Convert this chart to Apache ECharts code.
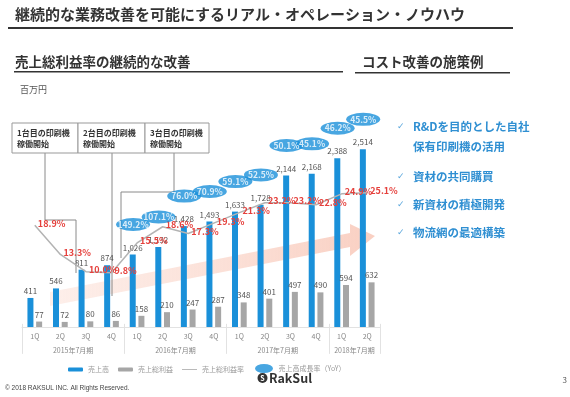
<!DOCTYPE html>
<html>
<head>
<meta charset="utf-8">
<script src="https://cdn.jsdelivr.net/npm/echarts@6/dist/echarts.min.js"></script>
<style>
html,body{margin:0;padding:0;background:#fff;}
#chart{width:570px;height:397px;}
</style>
</head>
<body>
<div id="chart"></div>
<script>
// 四半期・期
const quarters = ['1Q','2Q','3Q','4Q','1Q','2Q','3Q','4Q','1Q','2Q','3Q','4Q','1Q','2Q'];
const fiscalYears = ['2015年7月期','2016年7月期','2017年7月期','2018年7月期'];
const yearSpans = [4,4,4,2];
// 百万円
const sales = [411,546,811,874,1026,1132,1428,1493,1633,1728,2144,2168,2388,2514];
const grossProfit = [77,72,80,86,158,210,247,287,348,401,497,490,594,632];
// %
const grossMargin = [18.9,13.3,10.0,9.8,15.5,18.6,17.3,19.3,21.3,23.2,23.2,22.8,24.9,25.1];
const salesGrowth = [null,null,null,null,149.2,107.1,76.0,70.9,59.1,52.5,50.1,45.1,46.2,45.5];
// 注記・施策
const milestones = ['1台目の印刷機\n稼働開始','2台目の印刷機\n稼働開始','3台目の印刷機\n稼働開始'];
const measures = ['R&Dを目的とした自社','保有印刷機の活用','資材の共同購買','新資材の積極開発','物流網の最適構築'];

const FONT = '"Noto Sans CJK JP", "Noto Sans", sans-serif';
const BLUE = '#1a90d9';
const GREY = '#a6a6a6';
const ELLIPSE = 'path://M0,5A10,5 0 1,1 20,5A10,5 0 1,1 0,5Z';

// 期ラベル用の境界軸 (0..14)
const yearAxisData = new Array(quarters.length + 1).fill('');
const yearBounds = [0];
fiscalYears.forEach((y, i) => {
    const start = yearBounds[i];
    const end = start + yearSpans[i];
    yearBounds.push(end);
    yearAxisData[(start + end) / 2] = y;
});

const growthData = [];
salesGrowth.forEach((g, i) => {
    if (g != null) growthData.push([i, sales[i], g]);
});

const fmt = v => v.toLocaleString('en-US');

// 注記ボックス
const boxX = [12, 78, 145];
const graphics = [];
milestones.forEach((t, i) => {
    const w = (i < 2 ? boxX[i + 1] : 209) - boxX[i];
    graphics.push({
        type: 'rect', shape: {x: boxX[i], y: 123, width: w, height: 30},
        style: {fill: '#fff', stroke: '#999', lineWidth: 1}, z: 5
    });
    graphics.push({
        type: 'text', x: boxX[i] + 5, y: 127, z: 6,
        style: {text: t, font: 'bold 8px ' + FONT, fill: '#333', lineHeight: 11}
    });
});
[
    [[45,153],[45,220],[76,220],[76,273]],
    [[112,153],[112,296]],
    [[174,153],[174,192],[121,192],[121,258]]
].forEach(pts => graphics.push({
    type: 'polyline', shape: {points: pts}, z: 1,
    style: {stroke: '#8a8a8a', lineWidth: 1, fill: null}
}));

// 背景の矢印
graphics.push({
    type: 'polygon', z: -1,
    shape: {points: [[50,292],[350,233],[350,224],[375,236],[350,256],[350,247],[50,306]]},
    style: {fill: new echarts.graphic.LinearGradient(0, 0, 1, 0, [
        {offset: 0, color: 'rgba(252,228,220,0.6)'},
        {offset: 1, color: 'rgba(249,205,191,0.95)'}
    ])}
});

// タイトル類
graphics.push(
    {type: 'text', x: 15, y: 14, style: {text: '継続的な業務改善を可能にするリアル・オペレーション・ノウハウ', font: 'bold 15px ' + FONT, fill: '#333', textVerticalAlign: 'middle'}},
    {type: 'rect', shape: {x: 8, y: 27, width: 505, height: 2}, style: {fill: '#333'}},
    {type: 'text', x: 15, y: 62, style: {text: '売上総利益率の継続的な改善', font: 'bold 13.5px ' + FONT, fill: '#333', textVerticalAlign: 'middle'}},
    {type: 'rect', shape: {x: 14, y: 71, width: 329, height: 1.5}, style: {fill: '#333'}},
    {type: 'text', x: 362, y: 62, style: {text: 'コスト改善の施策例', font: 'bold 13.5px ' + FONT, fill: '#333', textVerticalAlign: 'middle'}},
    {type: 'rect', shape: {x: 355, y: 72, width: 155, height: 1.5}, style: {fill: '#333'}},
    {type: 'text', x: 20, y: 90, style: {text: '百万円', font: '9px ' + FONT, fill: '#555', textVerticalAlign: 'middle'}}
);

// 施策例
const measureY = [127, 147, 177, 205, 233];
measures.forEach((m, i) => {
    if (i !== 1) {
        graphics.push({type: 'text', x: 397, y: measureY[i], style: {text: '✓', font: '9px "DejaVu Sans"', fill: '#5aa6dc', textVerticalAlign: 'middle'}});
    }
    graphics.push({type: 'text', x: 413, y: measureY[i], style: {text: m, font: 'bold 11.5px ' + FONT, fill: '#2f8fd2', textVerticalAlign: 'middle'}});
});

// フッター
graphics.push(
    {type: 'text', x: 5, y: 388, style: {text: '© 2018 RAKSUL INC. All Rights Reserved.', font: '6.5px "Liberation Sans"', fill: '#444', textVerticalAlign: 'middle'}},
    {type: 'text', x: 567, y: 380, style: {text: '3', font: '8px ' + FONT, fill: '#555', textAlign: 'right', textVerticalAlign: 'middle'}},
    {type: 'circle', shape: {cx: 262.5, cy: 378, r: 5}, style: {fill: '#333'}},
    {type: 'text', x: 262.5, y: 378, style: {text: 'S', font: 'bold 7px ' + FONT, fill: '#fff', textAlign: 'center', textVerticalAlign: 'middle'}},
    {type: 'text', x: 269, y: 378, style: {text: 'RakSul', font: 'bold 12.5px ' + FONT, fill: '#333', textVerticalAlign: 'middle'}}
);

let chart = echarts.init(document.getElementById('chart'));
chart.setOption({
    animation: false,
    textStyle: {fontFamily: FONT},
    grid: {left: 22, right: 190, top: 115, bottom: 70},
    legend: [
        {
            left: 63, top: 361, itemWidth: 15, itemHeight: 4, itemGap: 9,
            textStyle: {fontSize: 7, color: '#999'},
            data: ['売上高', '売上総利益', {name: '売上総利益率', icon: 'path://M0,0h20v1.2h-20z'}]
        },
        {
            left: 250, top: 359, itemWidth: 19, itemHeight: 9,
            textStyle: {fontSize: 7, color: '#999'},
            data: [{name: '売上高成長率（YoY）', icon: ELLIPSE}]
        }
    ],
    xAxis: [
        {
            type: 'category', data: quarters,
            axisLine: {lineStyle: {color: '#e2e2e2'}},
            axisTick: {show: false},
            axisLabel: {color: '#888', fontSize: 7, margin: 6}
        },
        {
            type: 'category', data: yearAxisData, boundaryGap: false, position: 'bottom',
            axisLine: {show: false},
            axisTick: {show: true, length: 30, interval: i => yearBounds.includes(i), lineStyle: {color: '#e2e2e2'}},
            axisLabel: {color: '#888', fontSize: 7, margin: 20, interval: (i, v) => v !== ''}
        }
    ],
    yAxis: [
        {type: 'value', min: 0, max: 3000, show: false, splitLine: {show: false}},
        {type: 'value', min: -0.6, max: 40, show: false, splitLine: {show: false}}
    ],
    series: [
        {
            name: '売上高', type: 'bar', data: sales, barWidth: 6, barGap: '45%',
            itemStyle: {color: BLUE},
            label: {show: true, position: 'top', distance: 3, fontSize: 8, color: '#555', formatter: p => fmt(p.value)}
        },
        {
            name: '売上総利益', type: 'bar', data: grossProfit, barWidth: 6,
            itemStyle: {color: GREY},
            label: {show: true, position: 'top', distance: 3, fontSize: 8, color: '#555', formatter: p => fmt(p.value)}
        },
        {
            name: '売上総利益率', type: 'line', yAxisIndex: 1, data: grossMargin,
            color: '#b3b3b3', symbol: 'circle', symbolSize: 0.1,
            lineStyle: {color: '#b3b3b3', width: 1.5},
            label: {show: true, position: 'right', distance: 3, offset: [0, -2], fontSize: 9, fontWeight: 'bold', color: '#e5403c', formatter: p => p.value.toFixed(1) + '%'},
            z: 4
        },
        {
            name: '売上高成長率（YoY）', type: 'scatter', data: growthData,
            symbol: ELLIPSE, symbolSize: [34, 13], symbolOffset: [-4, -30],
            itemStyle: {color: BLUE},
            label: {show: true, position: 'inside', color: '#fff', fontSize: 8.5, fontWeight: 'bold', formatter: p => p.value[2].toFixed(1) + '%'},
            z: 6
        }
    ],
    graphic: graphics
});
</script>
</body>
</html>
